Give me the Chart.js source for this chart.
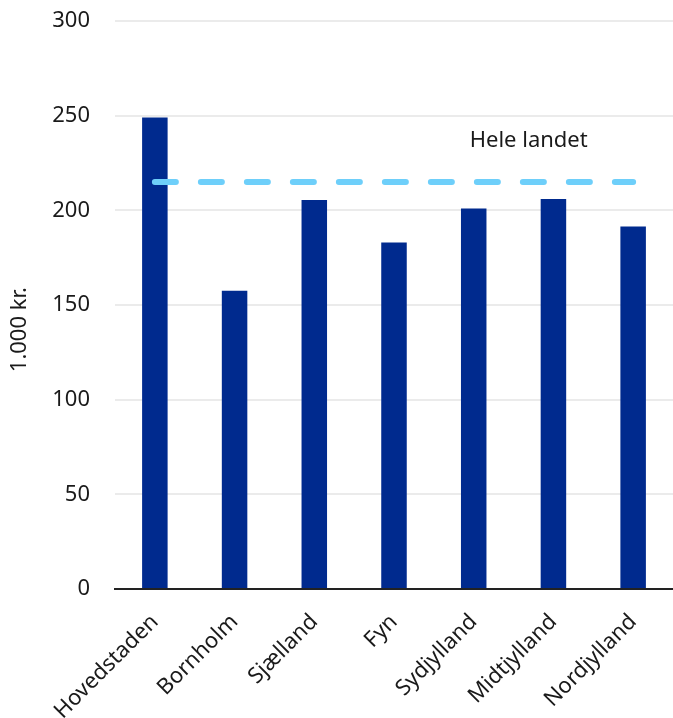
<!DOCTYPE html>
<html>
<head>
<meta charset="utf-8">
<script src="https://cdn.jsdelivr.net/npm/chart.js@4"></script>
<style>
  body { margin: 0; background: #fff; overflow: hidden; }
  #wrap { width: 673px; height: 718px; overflow: hidden; }
</style>
</head>
<body>
<div id="wrap"><canvas id="chart" width="673" height="718"></canvas></div>
<script>
const regioner = ['Hovedstaden', 'Bornholm', 'Sjælland', 'Fyn', 'Sydjylland', 'Midtjylland', 'Nordjylland']
const vaerdier = [249, 157.5, 205.5, 183, 201, 206, 191.5]
const heleLandet = [215, 215, 215, 215, 215, 215, 215]
const yTicks = [0, 50, 100, 150, 200, 250, 300]

const fontFamily = '"Noto Sans", "Open Sans", sans-serif'

// text label above the dashed line + y axis title (sits a bit below centre)
const tekster = {
    id: 'tekster',
    afterDatasetsDraw(chart) {
        const { ctx, scales } = chart
        const x4 = scales.x.getPixelForValue(4)
        const x5 = scales.x.getPixelForValue(5)
        const x = x4 + 0.69 * (x5 - x4)
        const y = scales.y.getPixelForValue(236.5)
        ctx.save()
        ctx.font = '22px ' + fontFamily
        ctx.fillStyle = '#1a1a1a'
        ctx.textAlign = 'center'
        ctx.textBaseline = 'middle'
        ctx.fillText('Hele landet', x, y)

        ctx.translate(20, scales.y.getPixelForValue(137))
        ctx.rotate(-Math.PI / 2)
        ctx.fillText('1.000 kr.', 0, 0)
        ctx.restore()
    }
}

new Chart(document.getElementById('chart'), {
    type: 'bar',
    data: {
        labels: regioner,
        datasets: [{
            type: 'line',
            label: 'Hele landet',
            data: heleLandet,
            borderColor: '#6ECFFA',
            borderWidth: 6,
            borderDash: [21, 25],
            borderCapStyle: 'round',
            pointRadius: 0,
            fill: false,
            order: 0
        }, {
            label: '1.000 kr.',
            data: vaerdier,
            backgroundColor: '#002A8E',
            categoryPercentage: 1,
            barPercentage: 0.32,
            order: 1
        }]
    },
    options: {
        responsive: false,
        animation: false,
        layout: { padding: { top: 21, right: 0, left: 4, bottom: 0 } },
        plugins: {
            legend: { display: false },
            tooltip: { enabled: false }
        },
        scales: {
            x: {
                grid: { display: false, drawTicks: false },
                border: { display: true, color: '#222', width: 2 },
                afterFit: axis => {
                    axis.height = 129
                    axis.paddingTop = 0
                },
                ticks: {
                    color: '#1a1a1a',
                    font: { family: fontFamily, size: 22 },
                    maxRotation: 45,
                    minRotation: 45,
                    padding: 20
                }
            },
            y: {
                min: 0,
                max: 300,
                afterBuildTicks: axis => { axis.ticks = yTicks.map(v => ({ value: v })) },
                afterFit: axis => {
                    axis.width = 111
                    axis.paddingTop = 0
                },
                grid: { color: '#EBEBEB', lineWidth: 2, drawTicks: false },
                border: { display: false },
                ticks: {
                    color: '#1a1a1a',
                    font: { family: fontFamily, size: 22 },
                    padding: 25
                }
            }
        }
    },
    plugins: [tekster]
})
</script>
</body>
</html>
